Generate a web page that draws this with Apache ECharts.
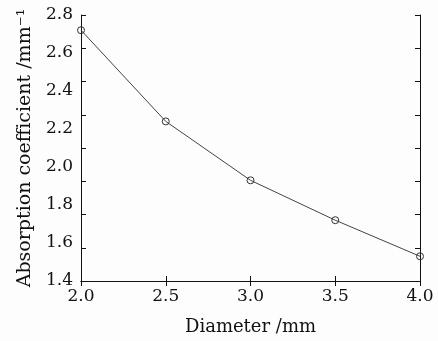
<!DOCTYPE html>
<html><head><meta charset="utf-8">
<script src="https://cdn.jsdelivr.net/npm/echarts@6/dist/echarts.min.js"></script>
<style>html,body{margin:0;padding:0;background:#fdfdfd;}#c{width:438px;height:341px;}</style>
</head><body><div id="c"></div>
<script>
var diameter = [2.0, 2.5, 3.0, 3.5, 4.0];
var absorption = [2.72, 2.24, 1.93, 1.72, 1.53];
var xTickLabels = ['2.0', '2.5', '3.0', '3.5', '4.0'];
var yTickLabels = ['1.4', '1.6', '1.8', '2.0', '2.2', '2.4', '2.6', '2.8'];
var xTitle = 'Diameter /mm';
var yTitle = 'Absorption coefficient /mm\u207B\u00B9';

var font = 'DejaVu Serif';
var ink = '#111';
var chart = echarts.init(document.getElementById('c'), null, {renderer: 'canvas'});
var tickStyle = {show: true, inside: true, length: 5, lineStyle: {color: ink, width: 1}};
chart.setOption({
  backgroundColor: '#fdfdfd',
  animation: false,
  grid: {left: 81, right: 18, top: 15, bottom: 60, containLabel: false},
  xAxis: [{
    type: 'value', min: 2.0, max: 4.0, interval: 0.5, position: 'bottom',
    name: xTitle, nameLocation: 'middle', nameGap: 37,
    nameTextStyle: {fontFamily: font, fontSize: 18, color: ink},
    axisLine: {show: true, lineStyle: {color: ink, width: 1}},
    axisTick: tickStyle,
    splitLine: {show: false},
    axisLabel: {fontFamily: font, fontSize: 17, color: ink, margin: 7,
      formatter: function (v) { return xTickLabels[Math.round((v - 2) / 0.5)]; }}
  }, {
    type: 'value', min: 2.0, max: 4.0, interval: 0.5, position: 'top',
    axisLine: {show: true, lineStyle: {color: ink, width: 1}},
    axisTick: tickStyle, axisLabel: {show: false}, splitLine: {show: false}
  }],
  yAxis: [{
    type: 'value', min: 1.4, max: 2.8, interval: 0.2, position: 'left',
    name: yTitle, nameLocation: 'middle', nameGap: 46, nameRotate: 90,
    nameTextStyle: {fontFamily: font, fontSize: 19, color: ink},
    axisLine: {show: true, lineStyle: {color: ink, width: 1}},
    axisTick: {show: false},
    splitLine: {show: false},
    axisLabel: {fontFamily: font, fontSize: 17, color: ink, margin: 8,
      formatter: function (v) { return yTickLabels[Math.round((v - 1.4) / 0.2)]; }}
  }, {
    type: 'value', min: 0, max: 8, interval: 1, position: 'left',
    axisLine: {show: false}, axisTick: tickStyle,
    axisLabel: {show: false}, splitLine: {show: false}
  }, {
    type: 'value', min: 0, max: 8, interval: 1, position: 'right',
    axisLine: {show: true, lineStyle: {color: ink, width: 1}}, axisTick: tickStyle,
    axisLabel: {show: false}, splitLine: {show: false}
  }],
  series: [{
    type: 'line',
    xAxisIndex: 0, yAxisIndex: 0,
    data: diameter.map(function (d, i) { return [d, absorption[i]]; }),
    symbol: 'circle', symbolSize: 7, showSymbol: true,
    lineStyle: {color: '#444', width: 1},
    itemStyle: {color: 'transparent', borderColor: '#333', borderWidth: 1},
    clip: false
  }]
});
</script></body></html>
